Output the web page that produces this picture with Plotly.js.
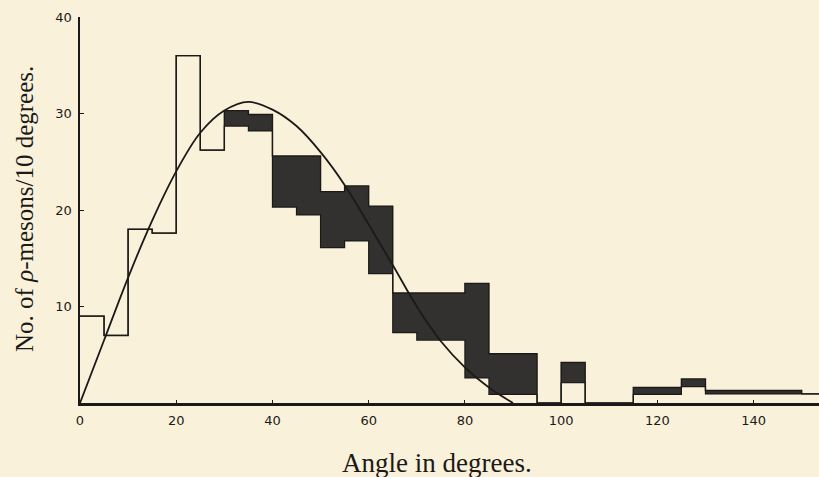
<!DOCTYPE html>
<html>
<head>
<meta charset="utf-8">
<script src="https://cdn.plot.ly/plotly-3.0.1.min.js"></script>
<style>
  html, body { margin: 0; padding: 0; background: #f9f1da; }
  #chart { width: 819px; height: 477px; }
</style>
</head>
<body>
<div id="chart"></div>
<script>
// Bin edges (degrees), 5-degree bins
const binEdges = [0,5,10,15,20,25,30,35,40,45,50,55,60,65,70,75,80,85,90,95,100,105,110,115,120,125,130,135,140,145,150,155];
// Lower estimate of counts per bin (outline level / bottom of shaded band)
const lowerCounts = [9,7,18,17.6,36,26.2,28.7,28.2,20.3,19.5,16.1,16.8,13.4,7.3,6.5,6.5,2.6,0.9,0.9,0,2.1,0,0,0.9,0.9,1.7,0.95,0.95,0.95,0.95,0.95];
// Upper estimate of counts per bin (top of shaded band)
const upperCounts = [9,7,18,17.6,36,26.2,30.3,29.9,25.6,25.6,21.9,22.5,20.4,11.4,11.4,11.4,12.4,5.1,5.1,0,4.2,0,0,1.6,1.6,2.5,1.3,1.3,1.3,1.3,0.95];
// Theoretical curve
const fitAngle = [0,5,10,15,20,25,30,35,40,45,50,55,60,65,70,75,80,85,90];
const fitCount = [0,6.5,13.0,18.9,24.0,28.0,30.3,31.2,30.4,28.7,26.0,22.6,18.5,14.3,10.0,6.4,3.7,1.6,0];
// Tick labels
const xTickVals = [0,20,40,60,80,100,120,140];
const yTickVals = [10,20,30,40];

const ink = '#1c1a18';
const shade = '#333130';
const paper = '#f9f1da';

// shaded band between lower and upper estimates
const centers = [], widths = [], bases = [], heights = [];
for (let i = 0; i < lowerCounts.length; i++) {
  centers.push((binEdges[i] + binEdges[i+1]) / 2);
  widths.push(binEdges[i+1] - binEdges[i]);
  bases.push(lowerCounts[i]);
  heights.push(upperCounts[i] - lowerCounts[i]);
}

const band = {
  type: 'bar', x: centers, y: heights, base: bases, width: widths,
  marker: { color: shade, line: { width: 0 } },
  hoverinfo: 'skip', showlegend: false
};

const upperStep = upperCounts.concat([upperCounts[upperCounts.length-1]]);
const lowerStep = lowerCounts.concat([lowerCounts[lowerCounts.length-1]]);
const outlineLow = {
  type: 'scatter', mode: 'lines', x: binEdges, y: lowerStep,
  line: { shape: 'hv', color: ink, width: 1.2 },
  hoverinfo: 'skip', showlegend: false
};
const outline = {
  type: 'scatter', mode: 'lines', x: binEdges, y: upperStep,
  line: { shape: 'hv', color: ink, width: 1.4 },
  hoverinfo: 'skip', showlegend: false
};

const curve = {
  type: 'scatter', mode: 'lines', x: fitAngle, y: fitCount,
  line: { shape: 'spline', smoothing: 1, color: ink, width: 1.8 },
  hoverinfo: 'skip', showlegend: false
};

const L = 80, T = 17, W = 819, H = 477, B = 74, R = 0;
const pw = W - L - R, ph = H - T - B;
function px2paperX(px) { return (px - L) / pw; }
function px2paperY(py) { return 1 - (py - T) / ph; }

const tickFont = { family: 'DejaVu Sans, Verdana, sans-serif', size: 13, color: ink };

const layout = {
  width: W, height: H,
  margin: { l: L, r: R, t: T, b: B, pad: 0 },
  paper_bgcolor: paper,
  plot_bgcolor: paper,
  bargap: 0,
  font: tickFont,
  xaxis: {
    range: [0, 153.6], showgrid: false, zeroline: false,
    showline: true, linecolor: ink, linewidth: 2.5,
    ticks: 'inside', ticklen: 3, tickwidth: 1, tickcolor: ink,
    tickvals: xTickVals, ticktext: xTickVals.map(String),
    tickfont: tickFont,
    ticklabelstandoff: 4
  },
  yaxis: {
    range: [0, 40], showgrid: false, zeroline: false,
    showline: true, linecolor: ink, linewidth: 2.5,
    ticks: 'inside', ticklen: 4, tickwidth: 1, tickcolor: ink,
    tickvals: yTickVals, ticktext: yTickVals.map(String),
    tickfont: tickFont,
    ticklabelstandoff: 3
  },
  annotations: [
    {
      text: 'Angle in degrees.', xref: 'paper', yref: 'paper',
      x: px2paperX(437), y: px2paperY(463), xanchor: 'center', yanchor: 'middle',
      showarrow: false,
      font: { family: 'Liberation Serif, Times New Roman, serif', size: 27, color: ink }
    },
    {
      text: 'No. of <i>ρ</i>-mesons/10 degrees.', xref: 'paper', yref: 'paper',
      x: px2paperX(24), y: px2paperY(209), xanchor: 'center', yanchor: 'middle',
      textangle: -90, showarrow: false,
      font: { family: 'Liberation Serif, Times New Roman, serif', size: 25, color: ink }
    }
  ]
};

Plotly.newPlot('chart', [band, outlineLow, outline, curve], layout, { staticPlot: true, displayModeBar: false });
</script>
</body>
</html>
